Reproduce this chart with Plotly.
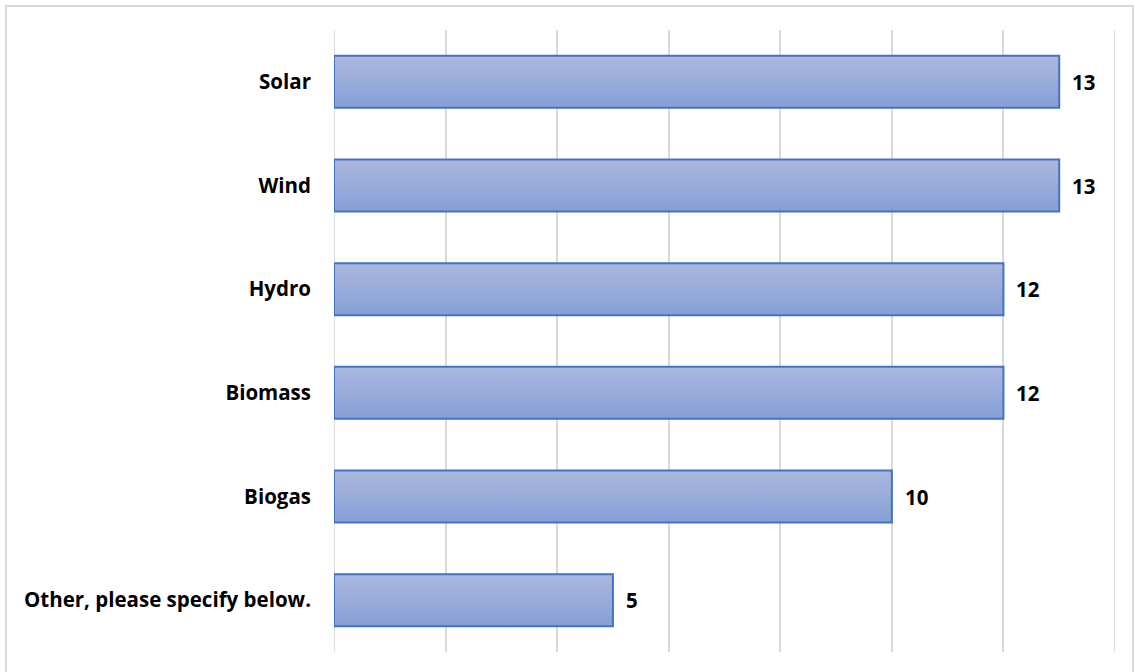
import plotly.graph_objects as go

categories = ["Solar", "Wind", "Hydro", "Biomass", "Biogas", "Other, please specify below."]
values = [13, 13, 12, 12, 10, 5]
x_ticks = [0, 2, 4, 6, 8, 10, 12, 14]

W, H = 1134, 672
L, R, T, B = 334, 19, 30, 20
half = 0.251
grid_color = "#d9d9d9"

fig = go.Figure()
n = len(categories)
positions = [n - 1 - i for i in range(n)]

for cat, v, p in zip(categories, values, positions):
    fig.add_trace(go.Scatter(
        x=[0, v, v, 0, 0],
        y=[p - half, p - half, p + half, p + half, p - half],
        mode="lines",
        fill="toself",
        line=dict(color="#4472c4", width=2),
        fillgradient=dict(type="vertical",
                          colorscale=[[0, "#869fd7"], [1, "#abb8df"]]),
        hoverinfo="skip",
        showlegend=False,
        name=cat,
    ))

for v, p in zip(values, positions):
    fig.add_annotation(x=v, y=p, text=f"<b>{v}</b>", showarrow=False,
                       xanchor="left", xshift=11,
                       font=dict(family="Open Sans", size=20.5, color="#000000"))

# edge gridlines (plotly omits gridlines lying on the plot-area edges)
for xv in (x_ticks[0], x_ticks[-1]):
    fig.add_shape(type="line", xref="x", yref="paper", x0=xv, x1=xv, y0=0, y1=1,
                  line=dict(color=grid_color, width=1.8), layer="below")

w_plot = W - L - R
h_plot = H - T - B
fig.add_shape(type="rect", xref="paper", yref="paper",
              x0=(6 - L) / w_plot, x1=(1133 - L) / w_plot,
              y0=-0.2, y1=(H - B - 6) / h_plot,
              line=dict(color=grid_color, width=2), fillcolor="rgba(0,0,0,0)",
              layer="below")

fig.update_layout(
    width=W, height=H,
    margin=dict(l=L, r=R, t=T, b=B),
    paper_bgcolor="white", plot_bgcolor="white",
    xaxis=dict(range=[x_ticks[0], x_ticks[-1]], tickvals=x_ticks,
               showticklabels=False,
               showgrid=True, gridcolor=grid_color, gridwidth=1.8,
               zeroline=False, showline=False, fixedrange=True),
    yaxis=dict(range=[-0.5, n - 0.5], tickvals=positions,
               ticktext=[f"<b>{c}</b>" for c in categories],
               showgrid=False, zeroline=False, showline=False,
               ticklabelstandoff=22,
               tickfont=dict(family="Open Sans", size=20.5, color="#000000")),
)

fig.write_html("out.html")
